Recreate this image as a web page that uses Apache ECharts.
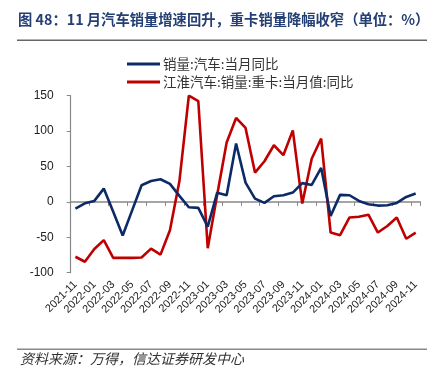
<!DOCTYPE html>
<html>
<head>
<meta charset="utf-8">
<script src="https://cdn.jsdelivr.net/npm/echarts@6/dist/echarts.min.js"></script>
<style>
html,body{margin:0;padding:0;background:#fff;}
#c{width:444px;height:378px;}
</style>
</head>
<body>
<div id="c"></div>
<script>
const categories = ['2021-11','2021-12','2022-01','2022-02','2022-03','2022-04','2022-05','2022-06','2022-07','2022-08','2022-09','2022-10','2022-11','2022-12','2023-01','2023-02','2023-03','2023-04','2023-05','2023-06','2023-07','2023-08','2023-09','2023-10','2023-11','2023-12','2024-01','2024-02','2024-03','2024-04','2024-05','2024-06','2024-07','2024-08','2024-09','2024-10','2024-11'];
const autoSalesYoY = [-9.4,-2,1.4,18.8,-14,-47.5,-12,23.5,29.5,32,25.5,8.5,-7.5,-8.5,-35,13,9.5,82.4,27.3,4.7,-1.4,8,9.4,13.2,26.5,24,48,-20,9.9,9.4,1.4,-3.3,-5.2,-4.7,-1.4,7,11.8];
const jacHeavyTruckYoY = [-77.5,-84.5,-66.5,-54,-79,-79,-79,-78.5,-66,-74.5,-40,29,150,142.5,-65.5,10,84,118.6,104.5,41.4,57.4,80,66,101,-2.4,61,89.5,-43.3,-47,-22,-21,-18,-43.3,-34,-22,-52,-43.3];
const seriesNames = ['销量:汽车:当月同比','江淮汽车:销量:重卡:当月值:同比'];
const yTicks = {min:-100, max:150, interval:50};
const titleText = '图 48：11 月汽车销量增速回升，重卡销量降幅收窄（单位：%）';
const sourceText = '资料来源：万得，信达证券研发中心';

const chart = echarts.init(document.getElementById('c'), null, {renderer:'canvas'});
const BLUE = '#0b2a66', RED = '#c00000';
chart.setOption({
  animation:false,
  backgroundColor:'#fff',
  graphic:[
    {type:'text', left:18, top:12, style:{text:titleText, font:'bold 14.3px "Noto Sans CJK SC", sans-serif', fill:'#243f73'}},
    {type:'rect', shape:{x:17,y:39.5,width:410,height:1.5}, style:{fill:'#666'}},
    {type:'rect', shape:{x:17,y:348.5,width:410,height:1.5}, style:{fill:'#888'}},
    {type:'text', left:20, top:352, style:{text:sourceText, font:'italic 14px "Noto Sans CJK SC", sans-serif', fill:'#333'}}
  ],
  legend:{
    orient:'vertical', left:122, top:52,
    itemWidth:33, itemHeight:3, itemGap:4,
    icon:'rect',
    textStyle:{fontFamily:'"Noto Sans CJK SC", sans-serif', fontSize:13.5, color:'#333', lineHeight:14, padding:[0,0,0,-2]},
    data:seriesNames
  },
  grid:{left:70.7, right:23.6, top:95.7, height:177, containLabel:false},
  xAxis:[
    {type:'category', data:categories, boundaryGap:true, position:'bottom',
     axisLine:{show:false, onZero:false}, axisTick:{show:false},
     axisLabel:{interval:1, rotate:45, margin:10, fontFamily:'"Liberation Sans", Arial, sans-serif', fontSize:11, color:'#222'}},
    {type:'category', data:categories, boundaryGap:true,
     axisLine:{show:true, onZero:true, lineStyle:{color:'#888', width:1.5}},
     axisTick:{show:true, interval:1, inside:true, length:4, lineStyle:{color:'#888'}},
     axisLabel:{show:false}}
  ],
  yAxis:{type:'value', min:yTicks.min, max:yTicks.max, interval:yTicks.interval,
    axisLine:{show:true, lineStyle:{color:'#888', width:1.2}},
    axisTick:{show:true, length:4, lineStyle:{color:'#888'}},
    splitLine:{show:false},
    axisLabel:{margin:17, fontFamily:'"Liberation Sans", Arial, sans-serif', fontSize:12, color:'#222'}},
  series:[
    {name:seriesNames[0], type:'line', data:autoSalesYoY, xAxisIndex:0, symbol:'none',
     lineStyle:{color:BLUE, width:2.6}, itemStyle:{color:BLUE}, z:3},
    {name:seriesNames[1], type:'line', data:jacHeavyTruckYoY, xAxisIndex:0, symbol:'none',
     lineStyle:{color:RED, width:2.6}, itemStyle:{color:RED}, z:2}
  ]
});
</script>
</body>
</html>
